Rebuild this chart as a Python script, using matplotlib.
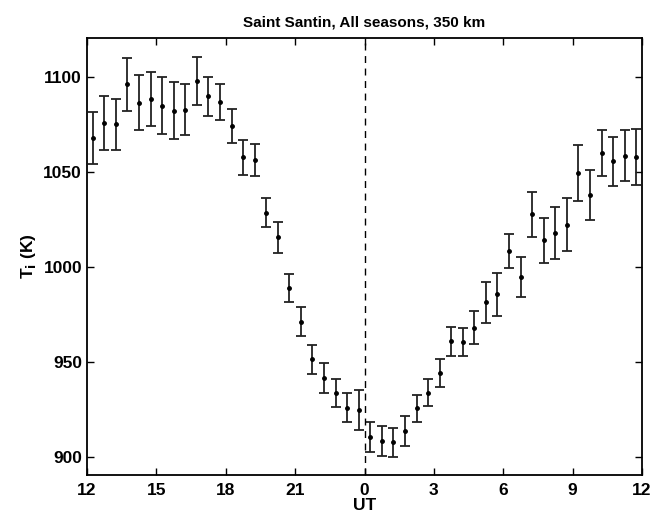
import numpy as np
import matplotlib
matplotlib.use("Agg")
from matplotlib import pyplot as plt

# heure UT (12 -> 36 = 12 le lendemain), pas de 0.5 h
ut = np.arange(12.25, 36.0, 0.5)

# temperature ionique moyenne (K)
ti = [1067.7, 1075.8, 1075.1, 1096.2, 1086.5, 1088.4, 1084.7, 1082.1, 1082.8, 1097.9,
      1089.8, 1086.8, 1074.0, 1057.6, 1056.3, 1028.6, 1015.6, 989.0, 971.1, 951.4,
      941.6, 933.7, 926.0, 924.6, 910.7, 908.4, 907.6, 913.5, 925.5, 933.9,
      944.1, 960.9, 960.5, 968.1, 981.3, 985.6, 1008.3, 994.7, 1027.6, 1014.0,
      1017.9, 1022.3, 1049.3, 1037.9, 1060.0, 1055.6, 1058.6, 1057.9]

# barres d'erreur (K)
err = [13.6, 14.0, 13.5, 14.0, 14.5, 14.3, 15.0, 15.0, 13.5, 12.5,
       10.4, 9.3, 9.0, 9.0, 8.3, 7.8, 8.2, 7.5, 7.6, 7.6,
       7.8, 7.5, 7.8, 10.5, 7.9, 7.9, 7.4, 7.8, 7.3, 7.3,
       7.3, 7.6, 7.6, 8.8, 10.7, 11.3, 9.0, 10.5, 11.8, 11.8,
       13.5, 14.0, 14.8, 13.2, 12.3, 13.0, 13.4, 14.7]

xticks = [12, 15, 18, 21, 24, 27, 30, 33, 36]
xticklabels = ['12', '15', '18', '21', '0', '3', '6', '9', '12']
yticks = [900, 950, 1000, 1050, 1100]

plt.rcParams['font.family'] = ['Liberation Sans Narrow', 'Liberation Sans', 'DejaVu Sans']
plt.rcParams['font.weight'] = 'bold'

fig = plt.figure(figsize=(6.53, 5.16), dpi=100)
ax = fig.add_axes([0.1332, 0.0795, 0.85, 0.8469])

ax.errorbar(ut, ti, yerr=err, fmt='o', color='black', ecolor='#222222',
            markersize=2.5, elinewidth=1.3, capsize=3.8, capthick=1.3)
ax.axvline(24, color='black', linestyle='--', linewidth=1.0, dashes=(5, 4))

ax.set_xlim(12, 36)
ax.set_ylim(890.5, 1120.5)
ax.set_xticks(xticks)
ax.set_xticklabels(xticklabels)
ax.set_yticks(yticks)
ax.tick_params(direction='in', top=True, right=True, labelsize=12.5, length=5, width=1)
ax.tick_params(axis='x', pad=6)
for lab in ax.get_xticklabels() + ax.get_yticklabels():
    lab.set_fontweight('bold')
for s in ax.spines.values():
    s.set_linewidth(1.3)

ax.set_xlabel('UT', fontsize=12.5, fontweight='bold', labelpad=0)
ax.set_ylabel(r'T$_\mathbf{i}$ (K)', fontsize=12.5, fontweight='bold', labelpad=4)
ax.set_title('Saint Santin, All seasons, 350 km', fontsize=11, fontweight='bold', pad=8)

fig.savefig('out.png', dpi=100)
